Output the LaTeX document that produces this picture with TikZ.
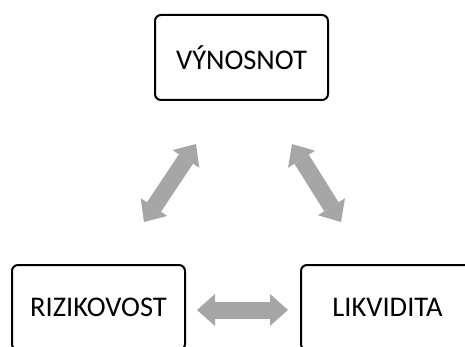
\documentclass[tikz,border=0pt]{standalone}
\usepackage{fontspec}
\setmainfont{Carlito}
\usetikzlibrary{arrows.meta}
\definecolor{arrowgray}{RGB}{166,166,166}
\tikzset{
box/.style={draw, line width=2pt, rounded corners=6pt, minimum width=173pt, minimum height=85pt, inner sep=0pt, font=\fontsize{28.5}{31}\selectfont},
link/.style={arrowgray, line width=17pt, {Triangle[width=32pt,length=18pt,line width=0pt]}-{Triangle[width=32pt,length=18pt,line width=0pt]}}
}
\begin{document}
\begin{tikzpicture}[x=1pt,y=-1pt]
\useasboundingbox (0,0) rectangle (465,347);
\clip (0,0) rectangle (465,347);
% the three boxes
\node[box] (vynos) at (241.5,57.5) {VÝNOSNOT};
\node[box] (riziko) at (98.5,307.5) {RIZIKOVOST};
\node[box] (likvid) at (387.5,307.5) {LIKVIDITA};
% arrow ends
\coordinate (lt) at (196,144);
\coordinate (lb) at (144,222);
\coordinate (rt) at (292,144);
\coordinate (rb) at (341,222);
\coordinate (hl) at (197,310);
\coordinate (hr) at (288,310);
\draw[link] (lt) -- (lb);
\draw[link] (rt) -- (rb);
\draw[link] (hl) -- (hr);
\end{tikzpicture}
\end{document}
